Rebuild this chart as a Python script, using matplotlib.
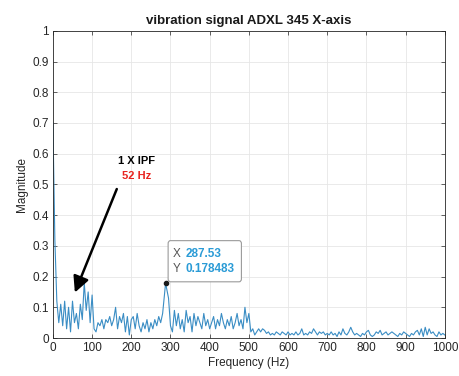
import matplotlib
matplotlib.use("Agg")
import matplotlib.pyplot as plt
from matplotlib.patches import FancyBboxPatch


# ---------- Data ----------

FREQ_HZ = [
    0, 5, 10, 15, 20, 25, 30, 35, 40, 45,
    50, 55, 60, 65, 70, 75, 80, 85, 90, 95,
    100, 105, 110, 115, 120, 125, 130, 135, 140, 145,
    150, 155, 160, 165, 170, 175, 180, 185, 190, 195,
    200, 205, 210, 215, 220, 225, 230, 235, 240, 245,
    250, 255, 260, 265, 270, 275, 280, 287.53, 295, 300,
    305, 310, 315, 320, 325, 330, 335, 340, 345, 350,
    355, 360, 365, 370, 375, 380, 385, 390, 395, 400,
    405, 410, 415, 420, 425, 430, 435, 440, 445, 450,
    455, 460, 465, 470, 475, 480, 485, 490, 495, 500,
    505, 510, 515, 520, 525, 530, 535, 540, 545, 550,
    555, 560, 565, 570, 575, 580, 585, 590, 595, 600,
    605, 610, 615, 620, 625, 630, 635, 640, 645, 650,
    655, 660, 665, 670, 675, 680, 685, 690, 695, 700,
    705, 710, 715, 720, 725, 730, 735, 740, 745, 750,
    755, 760, 765, 770, 775, 780, 785, 790, 795, 800,
    805, 810, 815, 820, 825, 830, 835, 840, 845, 850,
    855, 860, 865, 870, 875, 880, 885, 890, 895, 900,
    905, 910, 915, 920, 925, 930, 935, 940, 945, 950,
    955, 960, 965, 970, 975, 980, 985, 990, 995, 1000,
]

MAGNITUDE = [
    0.70, 0.32, 0.12, 0.05, 0.11, 0.04, 0.12, 0.03, 0.10, 0.02,
    0.12, 0.05, 0.08, 0.03, 0.11, 0.06, 0.18, 0.09, 0.15, 0.05,
    0.14, 0.03, 0.02, 0.05, 0.04, 0.06, 0.03, 0.06, 0.05, 0.07,
    0.04, 0.06, 0.10, 0.03, 0.07, 0.05, 0.08, 0.02, 0.07, 0.01,
    0.06, 0.07, 0.03, 0.08, 0.04, 0.02, 0.05, 0.03, 0.06, 0.02,
    0.05, 0.03, 0.06, 0.04, 0.07, 0.05, 0.08, 0.178483, 0.13, 0.04,
    0.02, 0.09, 0.04, 0.08, 0.03, 0.06, 0.02, 0.09, 0.05, 0.07,
    0.02, 0.08, 0.04, 0.07, 0.05, 0.03, 0.08, 0.04, 0.06, 0.03,
    0.05, 0.07, 0.03, 0.06, 0.04, 0.08, 0.05, 0.03, 0.06, 0.04,
    0.07, 0.03, 0.05, 0.08, 0.04, 0.06, 0.03, 0.10, 0.05, 0.08,
    0.02, 0.03, 0.01, 0.02, 0.03, 0.02, 0.03, 0.025, 0.015, 0.02,
    0.01, 0.015, 0.01, 0.02, 0.015, 0.01, 0.02, 0.015, 0.01, 0.02,
    0.01, 0.015, 0.01, 0.02, 0.01, 0.015, 0.03, 0.01, 0.015, 0.01,
    0.02, 0.015, 0.03, 0.02, 0.01, 0.02, 0.015, 0.02, 0.01, 0.015,
    0.01, 0.02, 0.01, 0.015, 0.005, 0.02, 0.01, 0.03, 0.015, 0.01,
    0.02, 0.035, 0.02, 0.01, 0.015, 0.01, 0.005, 0.015, 0.01, 0.02,
    0.025, 0.01, 0.005, 0.01, 0.02, 0.015, 0.025, 0.01, 0.015, 0.02,
    0.01, 0.015, 0.02, 0.015, 0.01, 0.005, 0.015, 0.01, 0.02, 0.015,
    0.01, 0.005, 0.015, 0.01, 0.02, 0.025, 0.01, 0.03, 0.005, 0.035,
    0.01, 0.03, 0.015, 0.02, 0.01, 0.005, 0.02, 0.01, 0.015, 0.01,
]

X_TICKS = [0, 100, 200, 300, 400, 500, 600, 700, 800, 900, 1000]
Y_TICKS = [0, 0.1, 0.2, 0.3, 0.4, 0.5, 0.6, 0.7, 0.8, 0.9, 1]
Y_TICK_LABELS = ["0", "0.1", "0.2", "0.3", "0.4", "0.5", "0.6", "0.7", "0.8", "0.9", "1"]

TIP_X = 287.53
TIP_Y = 0.178483

LINE_COLOR = "#3a8dc4"
TIP_TEXT_COLOR = "#2a9bd6"
AXIS_COLOR = "#262626"


def main():
    plt.rcParams["font.family"] = ["Liberation Sans", "DejaVu Sans"]

    fig = plt.figure(figsize=(4.6, 3.76), dpi=100)
    ax = fig.add_axes([0.115, 0.101, 0.852, 0.817])

    ax.plot(FREQ_HZ, MAGNITUDE, color=LINE_COLOR, lw=0.8)

    ax.set_xlim(0, 1000)
    ax.set_ylim(0, 1)
    ax.set_xticks(X_TICKS)
    ax.set_yticks(Y_TICKS)
    ax.set_yticklabels(Y_TICK_LABELS)

    ax.grid(True, color="#e6e6e6", lw=0.6)
    ax.set_axisbelow(True)
    ax.tick_params(direction="in", length=3, width=0.5, colors=AXIS_COLOR,
                   labelsize=8.5, top=True, right=True, pad=3)
    for s in ax.spines.values():
        s.set_color(AXIS_COLOR)
        s.set_linewidth(0.6)

    ax.set_title("vibration signal ADXL 345 X-axis", fontsize=9.5,
                 fontweight="bold", color="#1a1a1a", pad=5)
    ax.set_xlabel("Frequency (Hz)", fontsize=8.5, color=AXIS_COLOR, labelpad=2)
    ax.set_ylabel("Magnitude", fontsize=8.5, color=AXIS_COLOR, labelpad=3)

    # ----- Arrow annotation -----
    ax.annotate("", xy=(56, 0.148), xytext=(163, 0.485),
                arrowprops=dict(arrowstyle="-|>", color="black", lw=1.8,
                                mutation_scale=24, shrinkA=0, shrinkB=0))
    ax.text(214, 0.577, "1 X IPF", fontsize=8, fontweight="bold",
            color="black", ha="center", va="center")
    ax.text(214, 0.528, "52 Hz", fontsize=8, fontweight="bold",
            color="#e8231f", ha="center", va="center")

    # ----- Data tip -----
    ax.plot([TIP_X], [TIP_Y], "o", color="#1a1a1a", ms=3, zorder=5)
    box = FancyBboxPatch((294, 0.183), 187, 0.134,
                         boxstyle="round,pad=0,rounding_size=6",
                         mutation_aspect=0.0016,
                         facecolor="white", edgecolor="#9a9a9a", lw=0.8,
                         zorder=4)
    ax.add_patch(box)
    ax.text(306, 0.274, "X", fontsize=8.5, color="#555555",
            va="center", ha="left", zorder=6)
    ax.text(338, 0.274, f"{TIP_X:.2f}", fontsize=8.5, color=TIP_TEXT_COLOR,
            fontweight="bold", va="center", ha="left", zorder=6)
    ax.text(306, 0.224, "Y", fontsize=8.5, color="#555555",
            va="center", ha="left", zorder=6)
    ax.text(338, 0.224, f"{TIP_Y:g}", fontsize=8.5, color=TIP_TEXT_COLOR,
            fontweight="bold", va="center", ha="left", zorder=6)

    fig.savefig("out.png", dpi=100, facecolor="white")
    plt.close(fig)


if __name__ == "__main__":
    main()
